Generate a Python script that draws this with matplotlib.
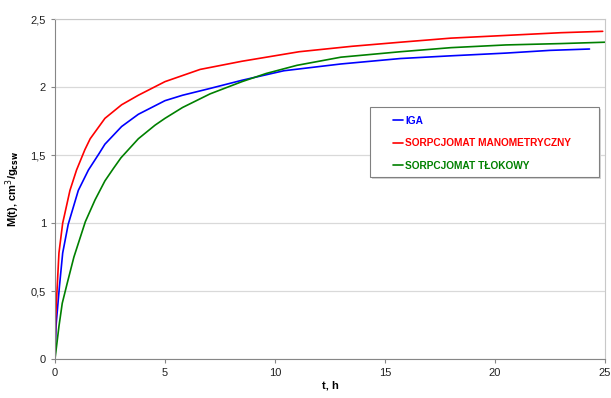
import matplotlib.pyplot as plt
from matplotlib.patches import Rectangle
from matplotlib.ticker import FuncFormatter

plt.rcParams['font.family'] = ['Liberation Sans', 'DejaVu Sans']

# IGA
t_iga = [0, 0.05, 0.2, 0.35, 0.6, 1.06, 1.52, 2.0, 2.27, 3.03, 3.79, 5.0, 5.8,
         7.05, 8.5, 10.4, 13, 15.7, 18, 20.5, 22.5, 24.3]
m_iga = [0, 0.25, 0.53, 0.78, 0.99, 1.24, 1.39, 1.51, 1.58, 1.71, 1.80, 1.90, 1.94,
         1.99, 2.05, 2.12, 2.17, 2.21, 2.23, 2.25, 2.27, 2.28]

# Sorpcjomat manometryczny
t_man = [0, 0.03, 0.1, 0.18, 0.35, 0.42, 0.68, 0.98, 1.36, 1.6, 2.27, 3.03, 3.79,
         5.0, 6.6, 8.5, 11.1, 13.5, 15.7, 18, 20.5, 23, 24.9]
m_man = [0, 0.3, 0.53, 0.78, 1.0, 1.05, 1.24, 1.39, 1.54, 1.62, 1.77, 1.87, 1.94,
         2.04, 2.13, 2.19, 2.26, 2.30, 2.33, 2.36, 2.38, 2.40, 2.41]

# Sorpcjomat tlokowy
t_tlo = [0, 0.18, 0.33, 0.56, 0.86, 1.38, 1.82, 2.27, 2.65, 3.0, 3.79, 4.55, 5.0,
         5.8, 7.05, 8.5, 9.6, 11, 13, 15.7, 18, 20.5, 23, 25]
m_tlo = [0, 0.24, 0.41, 0.56, 0.75, 1.01, 1.17, 1.31, 1.40, 1.48, 1.62, 1.72, 1.77,
         1.85, 1.95, 2.04, 2.1, 2.16, 2.22, 2.26, 2.29, 2.31, 2.32, 2.33]

fig = plt.figure(figsize=(6.11, 3.98), dpi=100)
ax = fig.add_axes([0.090, 0.098, 0.900, 0.854])

kw = dict(lw=1.2, solid_joinstyle='round', solid_capstyle='round')
ax.plot(t_iga, m_iga, color='#0000ff', label='IGA', **kw)
ax.plot(t_man, m_man, color='#ff0000', label='SORPCJOMAT MANOMETRYCZNY', **kw)
ax.plot(t_tlo, m_tlo, color='#008000', label='SORPCJOMAT TŁOKOWY', **kw)

ax.set_xlim(0, 25)
ax.set_ylim(0, 2.5)
ax.set_xticks([0, 5, 10, 15, 20, 25])
ax.set_yticks([0, 0.5, 1, 1.5, 2, 2.5])
ax.yaxis.set_major_formatter(FuncFormatter(lambda v, p: ('%g' % v).replace('.', ',')))
ax.grid(axis='y', color='#d9d9d9', lw=0.9)
ax.set_axisbelow(True)

for s in ['top', 'right']:
    ax.spines[s].set_color('#c8c8c8')
for s in ['left', 'bottom']:
    ax.spines[s].set_color('#868686')
ax.tick_params(colors='#868686', labelcolor='#222222', labelsize=8, length=3)

ax.set_xlabel('t, h', fontsize=8, fontweight='bold', labelpad=2)
ax.set_ylabel('M(t), cm$^3$/g$_{\\mathbf{csw}}$', fontsize=8, fontweight='bold', labelpad=6)

# legend box (Excel style, wider than its entries)
ax.add_patch(Rectangle((0.577, 0.529), 0.416, 0.206, transform=ax.transAxes,
                       facecolor='#d4d4d4', edgecolor='none', zorder=4))
ax.add_patch(Rectangle((0.573, 0.535), 0.416, 0.206, transform=ax.transAxes,
                       facecolor='white', edgecolor='#808080', lw=0.8, zorder=5))
leg = ax.legend(loc='upper left', bbox_to_anchor=(0.615, 0.715), frameon=False,
                prop={'weight': 'bold', 'size': 7.3}, handlelength=1.0, handletextpad=0.2,
                labelspacing=1.22, borderpad=0, borderaxespad=0)
leg.set_zorder(6)
for txt, ln in zip(leg.get_texts(), leg.get_lines()):
    txt.set_color(ln.get_color())

fig.savefig('out.png', dpi=100)
